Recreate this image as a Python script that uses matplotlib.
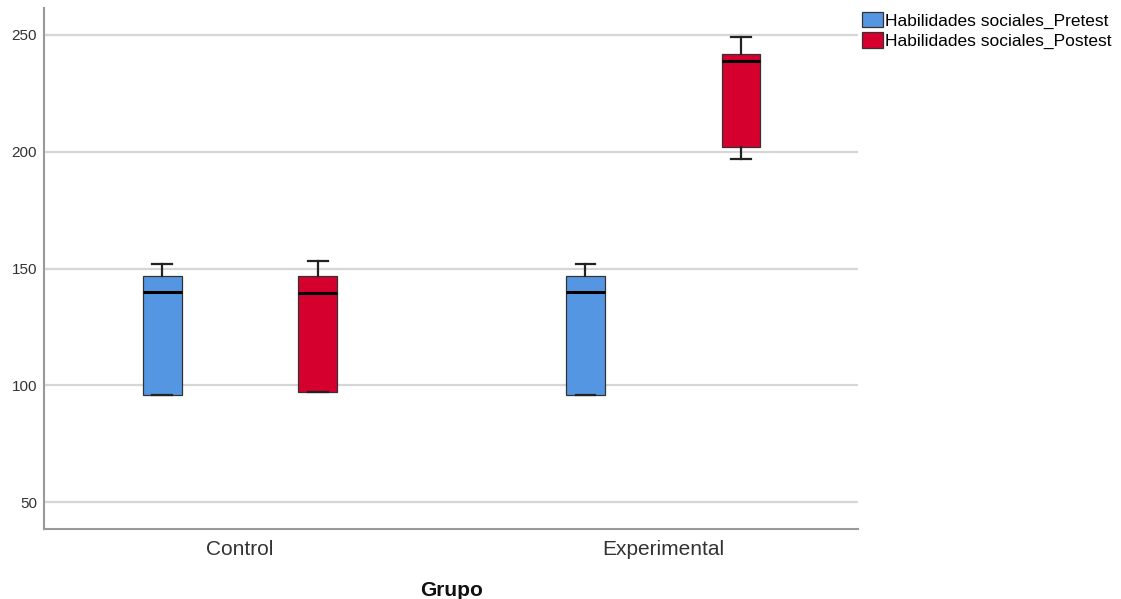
import numpy as np
import matplotlib
matplotlib.use("Agg")
import matplotlib.pyplot as plt
from matplotlib.patches import Patch

plt.rcParams['font.family'] = ['Liberation Sans', 'DejaVu Sans']

groups = ["Control", "Experimental"]
series = ["Habilidades sociales_Pretest", "Habilidades sociales_Postest"]
colors = ["#5596E2", "#D6002F"]

# five-number summaries per series, one value per group
pre_low = [96, 96]
pre_q1 = [96, 96]
pre_med = [140, 140]
pre_q3 = [147, 147]
pre_high = [152, 152]

post_low = [97, 197]
post_q1 = [97, 202]
post_med = [139.5, 239]
post_q3 = [147, 242]
post_high = [153, 249]

yticks = [50, 100, 150, 200, 250]

fig = plt.figure(figsize=(11.21, 5.99), dpi=100)
ax = fig.add_axes([0.0393, 0.1169, 0.7263, 0.8697])

offset = 0.184
width = 0.092
summaries = [(pre_low, pre_q1, pre_med, pre_q3, pre_high),
             (post_low, post_q1, post_med, post_q3, post_high)]

for s, (lo, q1, med, q3, hi) in enumerate(summaries):
    stats = []
    for g in range(len(groups)):
        stats.append(dict(whislo=lo[g], q1=q1[g], med=med[g], q3=q3[g], whishi=hi[g], fliers=[]))
    pos = [g + (s * 2 - 1) * offset for g in range(len(groups))]
    ax.bxp(stats, positions=pos, widths=width, patch_artist=True, showfliers=False,
           boxprops=dict(facecolor=colors[s], edgecolor="#333333", linewidth=0.9),
           medianprops=dict(color="black", linewidth=2.2),
           whiskerprops=dict(color="#222222", linewidth=1.6),
           capprops=dict(color="#222222", linewidth=1.6),
           capwidths=width * 0.5, zorder=3)

ax.set_xlim(-0.463, 1.461)
ax.set_ylim(38.5, 261.5)
ax.set_yticks(yticks)
ax.set_xticks(range(len(groups)))
ax.set_xticklabels(groups, fontsize=15, color="#333333")
ax.tick_params(axis="y", length=0, labelsize=11, labelcolor="#333333", pad=5)
ax.tick_params(axis="x", length=0, pad=8)
ax.yaxis.grid(True, color="#d6d6d6", linewidth=1.6, zorder=0)
ax.set_axisbelow(True)
for side in ["top", "right"]:
    ax.spines[side].set_visible(False)
for side in ["left", "bottom"]:
    ax.spines[side].set_color("#999999")
    ax.spines[side].set_linewidth(1.5)
ax.set_xlabel("Grupo", fontsize=15, fontweight="bold", labelpad=16, color="#111111")

handles = [Patch(facecolor=c, edgecolor="#333333", linewidth=0.9) for c in colors]
fig.legend(handles, series, loc="upper left", bbox_to_anchor=(0.7625, 0.992), frameon=False,
           fontsize=12.5, handlelength=1.2, handleheight=1.0, handletextpad=0.15,
           labelspacing=0.2, borderaxespad=0)

fig.savefig("out.png", dpi=100, facecolor="white")
